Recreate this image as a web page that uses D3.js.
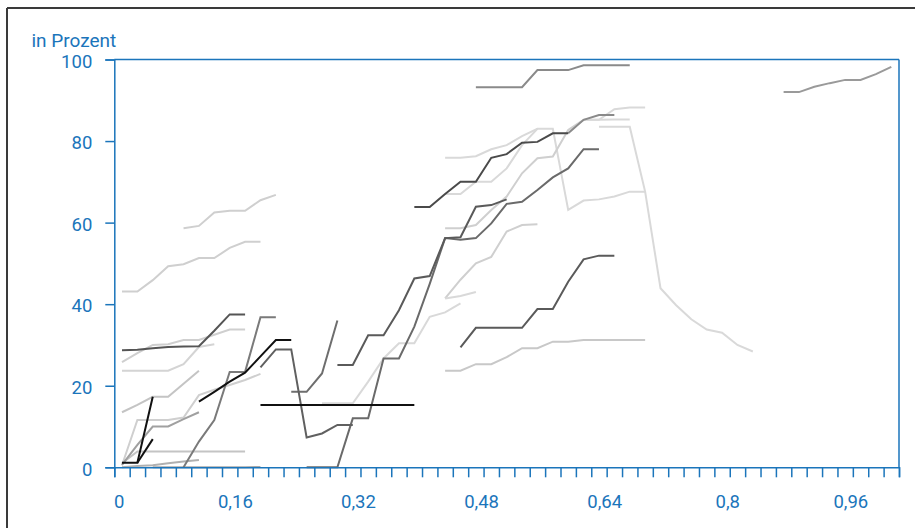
<!DOCTYPE html>
<html>
<head>
<meta charset="utf-8">
<script src="https://cdn.jsdelivr.net/npm/d3@7"></script>
<style>
  html, body { margin: 0; padding: 0; background: #fff; }
  svg { display: block; }
  text { font-family: Roboto, "Open Sans", sans-serif; }
</style>
</head>
<body>
<script>
// Axis ticks and labels
const yTicks = [0, 20, 40, 60, 80, 100];
const xLabelValues = [0, 0.16, 0.32, 0.48, 0.64, 0.8, 0.96];
const xMax = 1.02;
const binWidth = 0.02;

// Each series: index of its first bin, then the percentage per bin
const s01 = { from: 0, values: [28.7, 28.8, 29.2, 29.5, 29.6, 29.7, 33.5, 37.5, 37.5] };
const s02 = { from: 0, values: [25.8, 28.0, 30.0, 30.2, 31.2, 31.2, 32.5, 33.8, 33.8] };
const s03 = { from: 0, values: [23.7, 23.7, 23.7, 23.7, 25.3, 29.5, 30.2] };
const s04 = { from: 0, values: [13.5, 15.3, 17.3, 17.3, 20.5, 23.7] };
const s05 = { from: 0, values: [0.5, 11.6, 11.6, 11.6, 12.2, 17.7, 19.0, 20.2, 21.4, 22.9] };
const s06 = { from: 0, values: [0.6, 5.5, 10.0, 10.0, 11.8, 13.5] };
const s07 = { from: 0, values: [1.1, 1.1, 17.3] };
const s08 = { from: 1, values: [1.1, 6.9] };
const s09 = { from: 0, values: [1.0, 3.9, 3.9, 3.9, 3.9, 3.9, 3.9, 3.9, 3.9] };
const s10 = { from: 0, values: [0.0, 0.3, 0.5, 1.0, 1.4, 1.8] };
const s11 = { from: 2, values: [0.0, 0.0, 0.0, 0.0, 0.0, 0.0, 0.0, 0.1] };
const s12 = { from: 4, values: [0.0, 6.3, 11.6, 23.4, 23.4, 36.8, 36.8] };
const s13 = { from: 5, values: [16.1, 18.5, 21.0, 23.2, 27.2, 31.2, 31.2] };
const s14 = { from: 9, values: [15.3, 15.3, 15.3, 15.3, 15.3, 15.3, 15.3, 15.3, 15.3, 15.3, 15.3] };
const s15 = { from: 9, values: [24.5, 28.9, 28.9, 7.3, 8.3, 10.4, 10.4] };
const s16 = { from: 11, values: [18.5, 18.5, 23.0, 36.0] };
const s17 = { from: 12, values: [0.0, 0.0, 0.0, 12.0, 12.0, 26.7, 26.7, 34.5, 45.0, 56.2, 55.8, 56.2, 59.8, 64.6, 65.1, 68.0, 71.1, 73.3, 78.0, 78.0] };
const s18 = { from: 14, values: [25.1, 25.1, 32.4, 32.4, 38.5, 46.3, 46.9, 56.2, 56.4, 63.9, 64.3, 65.7] };
const s19 = { from: 13, values: [15.7, 15.7, 15.7, 21.0, 26.7, 30.4, 30.4, 36.9, 38.0, 40.2] };
const s20 = { from: 19, values: [63.8, 63.8, 67.0, 70.0, 70.0, 75.9, 76.8, 79.6, 79.8, 81.9, 81.9] };
const s21 = { from: 23, values: [93.2, 93.2, 93.2, 93.2, 97.4, 97.4, 97.4, 98.6, 98.6, 98.6, 98.6] };
const s22 = { from: 21, values: [75.9, 75.9, 76.3, 78.0, 79.0, 81.2, 83.0, 83.0, 63.1, 65.4, 65.7, 66.4, 67.6, 67.6] };
const s23 = { from: 21, values: [67.0, 67.0, 70.0, 70.0, 73.3, 79.0, 83.0] };
const s24 = { from: 21, values: [58.6, 58.6, 59.4, 63.1, 66.4, 72.1, 75.8, 76.2, 82.7, 85.2] };
const s25 = { from: 21, values: [41.4, 46.0, 50.0, 51.6, 57.8, 59.4, 59.6] };
const s26 = { from: 21, values: [41.4, 42.0, 43.0] };
const s27 = { from: 22, values: [29.4, 34.2, 34.2, 34.2, 34.2, 38.8, 38.8, 45.5, 51.0, 51.9, 51.9] };
const s28 = { from: 21, values: [23.7, 23.7, 25.3, 25.3, 27.0, 29.2, 29.2, 30.8, 30.8, 31.2, 31.2, 31.2, 31.2, 31.2] };
const s29 = { from: 31, values: [83.5, 83.5, 83.5, 67.6, 43.9, 39.8, 36.3, 33.8, 33.0, 30.0, 28.4] };
const s30 = { from: 43, values: [92.0, 92.0, 93.3, 94.2, 95.0, 95.0, 96.4, 98.2] };
const s31 = { from: 0, values: [43.1, 43.1, 45.9, 49.3, 49.8, 51.3, 51.3, 53.8, 55.3, 55.3] };
const s32 = { from: 4, values: [58.6, 59.2, 62.5, 62.9, 62.9, 65.5, 66.8] };
const s33 = { from: 29, values: [81.9, 85.2, 86.4, 86.4] };
const s34 = { from: 30, values: [85.2, 85.2, 87.8, 88.2, 88.2] };
const s35 = { from: 30, values: [85.2, 85.2, 85.3, 85.3] };

// Grey shade of each series, drawn light first so dark lines sit on top
const seriesList = [
  [s35, "#d9d9d9"], [s34, "#d9d9d9"], [s29, "#d9d9d9"], [s22, "#d9d9d9"], [s23, "#d9d9d9"],
  [s19, "#d9d9d9"], [s24, "#cfcfcf"], [s25, "#cfcfcf"], [s26, "#d9d9d9"], [s28, "#c8c8c8"],
  [s31, "#cfcfcf"], [s32, "#cfcfcf"], [s02, "#cfcfcf"], [s03, "#d4d4d4"], [s04, "#c4c4c4"],
  [s05, "#cfcfcf"], [s09, "#c4c4c4"], [s10, "#b0b0b0"], [s11, "#a8a8a8"], [s06, "#a0a0a0"],
  [s30, "#9a9a9a"], [s33, "#8a8a8a"], [s21, "#8a8a8a"], [s12, "#7a7a7a"], [s16, "#6e6e6e"],
  [s17, "#6a6a6a"], [s15, "#606060"], [s18, "#5a5a5a"], [s27, "#5a5a5a"], [s20, "#4a4a4a"],
  [s01, "#555555"], [s14, "#111111"], [s13, "#111111"], [s07, "#111111"], [s08, "#111111"]
];

const W = 915, H = 528;
const blue = "#1b75bb";
const svg = d3.select("body").append("svg").attr("width", W).attr("height", H);

// Outer frame of the figure
svg.append("line").attr("x1", 7).attr("x2", W).attr("y1", 8).attr("y2", 8)
  .attr("stroke", "#3a3a3a").attr("stroke-width", 2);
svg.append("line").attr("x1", 7).attr("x2", 7).attr("y1", 8).attr("y2", H)
  .attr("stroke", "#3a3a3a").attr("stroke-width", 2);

const x = d3.scaleLinear().domain([0, xMax]).range([114.3, 899]);
const y = d3.scaleLinear().domain([0, 100]).range([467.3, 59.5]);

const de = d3.formatLocale({ decimal: ",", thousands: ".", grouping: [3], currency: ["", " €"] });
const fmt = de.format("~g");

// Lines
const line = d3.line()
  .x(d => x(d.bin * binWidth + binWidth / 2))
  .y(d => y(d.v));

const g = svg.append("g");
seriesList.forEach(([s, col]) => {
  const pts = s.values.map((v, k) => ({ bin: s.from + k, v }));
  g.append("path").datum(pts)
    .attr("d", line)
    .attr("fill", "none")
    .attr("stroke", col)
    .attr("stroke-width", 2)
    .attr("stroke-linejoin", "miter");
});

// Plot frame: top and right edges
svg.append("line").attr("x1", x(0)).attr("x2", x(xMax)).attr("y1", y(100)).attr("y2", y(100))
  .attr("stroke", blue).attr("stroke-width", 1.5);
svg.append("line").attr("x1", x(xMax)).attr("x2", x(xMax)).attr("y1", y(100)).attr("y2", y(0))
  .attr("stroke", blue).attr("stroke-width", 1.5);

// Y axis
const yAxis = d3.axisLeft(y).tickValues(yTicks).tickSize(9).tickPadding(13).tickFormat(fmt);
const ya = svg.append("g").attr("transform", `translate(${x(0)},0)`).call(yAxis);
ya.select(".domain").attr("stroke", blue).attr("stroke-width", 1.5);
ya.selectAll(".tick line").attr("stroke", blue).attr("stroke-width", 1.5);
ya.selectAll(".tick text").attr("fill", blue).attr("font-size", 18.5)
  .attr("font-family", "Roboto, sans-serif").attr("dy", "0.42em");

// X axis: small ticks at every bin edge, labels every eighth
const xTickVals = d3.range(0, 52).map(k => k * binWidth);
const xAxis = d3.axisBottom(x).tickValues(xTickVals).tickSize(10).tickFormat("");
const xa = svg.append("g").attr("transform", `translate(0,${y(0)})`).call(xAxis);
xa.select(".domain").attr("stroke", blue).attr("stroke-width", 1.5);
xa.selectAll(".tick line").attr("stroke", blue).attr("stroke-width", 1.5);

svg.append("g").selectAll("text").data(xLabelValues).join("text")
  .attr("x", d => x(d) + (d === 0 ? 5 : -2))
  .attr("y", 508.3)
  .attr("text-anchor", "middle")
  .attr("fill", blue)
  .attr("font-size", 18.5)
  .text(d => fmt(d));

// Unit label
svg.append("text").attr("x", 31.5).attr("y", 46.5)
  .attr("fill", blue).attr("font-size", 19)
  .text("in Prozent");
</script>
</body>
</html>
